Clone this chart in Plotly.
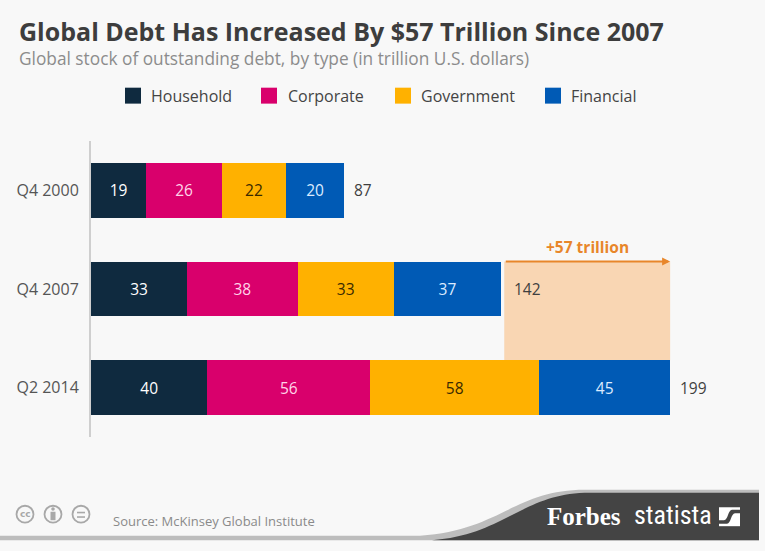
import plotly.graph_objects as go

# ---------------- data ----------------
categories = ["Q4 2000", "Q4 2007", "Q2 2014"]
series_names = ["Household", "Corporate", "Government", "Financial"]
household = [19, 33, 40]
corporate = [26, 38, 56]
government = [22, 33, 58]
financial = [20, 37, 45]
totals = [87, 142, 199]
increase_label = "+57 trillion"

series_values = [household, corporate, government, financial]
series_colors = ["#0F2A3F", "#D9006C", "#FFB100", "#005AB5"]
text_colors = ["#FFFFFF", "#FFD3E8", "#3A2A00", "#DCEBFF"]

W, H = 765, 551
L, R, T, B = 91, 25, 140.5, 113.5
PW, PH = W - L - R, H - T - B
XMAX = 223
BAR_W = 0.556


def px(x):
    return (x - L) / PW


def py(y):
    return (H - B - y) / PH


FONT = "Open Sans"
BG = "#F8F8F8"

fig = go.Figure()
for name, vals, col, tcol in zip(series_names, series_values, series_colors, text_colors):
    fig.add_trace(go.Bar(
        name=name, y=categories, x=vals, orientation="h",
        marker=dict(color=col, line=dict(width=0)),
        width=BAR_W,
        text=[str(v) for v in vals], textposition="inside",
        insidetextanchor="middle",
        textfont=dict(family=FONT, size=15.5, color=tcol),
        showlegend=False, hoverinfo="x+name",
    ))

shapes = []
annotations = []

# highlighted increase box (2007 total -> 2014 total)
top_2007 = 1 - BAR_W / 2
top_2014 = 2 - BAR_W / 2
shapes.append(dict(type="rect", xref="x", yref="y", x0=totals[1], x1=totals[2],
                   y0=top_2007, y1=top_2014, fillcolor="#F9D6B3",
                   line=dict(width=0), layer="below"))
annotations.append(dict(x=totals[2], y=top_2007, ax=totals[1], ay=top_2007,
                        xref="x", yref="y", axref="x", ayref="y", text="",
                        showarrow=True, arrowhead=2, arrowsize=0.8, arrowwidth=2,
                        arrowcolor="#E8862A", standoff=0, startstandoff=0))
annotations.append(dict(x=(totals[1] + totals[2]) / 2, y=top_2007, xref="x", yref="y",
                        text="<b>" + increase_label + "</b>", showarrow=False,
                        yanchor="bottom", yshift=2,
                        font=dict(family=FONT, size=15.5, color="#E8862A")))

# totals
for cat, tot in zip(categories, totals):
    annotations.append(dict(x=tot, y=cat, xref="x", yref="y", text=str(tot),
                            showarrow=False, xanchor="left", xshift=8,
                            font=dict(family=FONT, size=15.5, color="#3F3F3F")))

# title / subtitle
annotations.append(dict(x=px(17), y=py(30), xref="paper", yref="paper",
                        text="<b>Global Debt Has Increased By $57 Trillion Since 2007</b>",
                        showarrow=False, xanchor="left", yanchor="middle",
                        font=dict(family=FONT, size=25, color="#3D3D3D")))
annotations.append(dict(x=px(17), y=py(58), xref="paper", yref="paper",
                        text="Global stock of outstanding debt, by type (in trillion U.S. dollars)",
                        showarrow=False, xanchor="left", yanchor="middle",
                        font=dict(family=FONT, size=17.3, color="#8C8C8C")))

# custom legend
leg_sq_x = [125, 261, 395, 545]
leg_tx_x = [149, 286, 419, 569]
for name, col, sx, tx in zip(series_names, series_colors, leg_sq_x, leg_tx_x):
    shapes.append(dict(type="rect", xref="paper", yref="paper",
                       x0=px(sx), x1=px(sx + 16), y0=py(103), y1=py(87),
                       fillcolor=col, line=dict(width=0)))
    annotations.append(dict(x=px(tx), y=py(95), xref="paper", yref="paper", text=name,
                            showarrow=False, xanchor="left", yanchor="middle",
                            font=dict(family=FONT, size=16, color="#444444")))

# footer band
def P(x, y):
    return f"{px(x):.5f},{py(y):.5f}"

shapes.append(dict(type="path", xref="paper", yref="paper",
                   path=f"M {P(0,536.5)} L {P(420,536.5)} C {P(500,531)} {P(515,490.5)} {P(585,490.5)} "
                        f"L {P(759,490.5)} L {P(759,541)} L {P(0,541)} Z",
                   fillcolor="#BDBDBD", line=dict(width=0)))
shapes.append(dict(type="path", xref="paper", yref="paper",
                   path=f"M {P(432,541)} C {P(505,536)} {P(522,493.5)} {P(590,493.5)} "
                        f"L {P(759,493.5)} L {P(759,541)} Z",
                   fillcolor="#444444", line=dict(width=0)))

# CC icons
icon_col = "#A8A8A8"
for cx in [25, 53, 81]:
    shapes.append(dict(type="circle", xref="paper", yref="paper",
                       x0=px(cx - 8.5), x1=px(cx + 8.5), y0=py(515 + 8.5), y1=py(515 - 8.5),
                       line=dict(color=icon_col, width=1.8), fillcolor=BG))
annotations.append(dict(x=px(25), y=py(515), xref="paper", yref="paper", text="<b>cc</b>",
                        showarrow=False, xanchor="center", yanchor="middle",
                        font=dict(family="DejaVu Sans", size=9, color=icon_col)))
shapes.append(dict(type="circle", xref="paper", yref="paper",
                   x0=px(51.2), x1=px(54.8), y0=py(511.5), y1=py(508), fillcolor=icon_col,
                   line=dict(width=0)))
shapes.append(dict(type="rect", xref="paper", yref="paper",
                   x0=px(50.5), x1=px(55.5), y0=py(521), y1=py(512.5), fillcolor=icon_col,
                   line=dict(width=0)))
for yy in [512.5, 517]:
    shapes.append(dict(type="rect", xref="paper", yref="paper",
                       x0=px(77), x1=px(85), y0=py(yy + 1.6), y1=py(yy), fillcolor=icon_col,
                       line=dict(width=0)))

annotations.append(dict(x=px(111), y=py(522), xref="paper", yref="paper",
                        text="Source: McKinsey Global Institute", showarrow=False,
                        xanchor="left", yanchor="middle",
                        font=dict(family=FONT, size=13, color="#8A8A8A")))

# Forbes / statista logos
annotations.append(dict(x=px(584), y=py(517), xref="paper", yref="paper", text="<b>Forbes</b>",
                        showarrow=False, xanchor="center", yanchor="middle",
                        font=dict(family="Liberation Serif", size=25, color="#FFFFFF")))
annotations.append(dict(x=px(673), y=py(516), xref="paper", yref="paper", text="statista",
                        showarrow=False, xanchor="center", yanchor="middle",
                        font=dict(family="Liberation Sans Narrow, Roboto Condensed, Roboto",
                                  size=26, color="#FFFFFF")))
shapes.append(dict(type="rect", xref="paper", yref="paper",
                   x0=px(719), x1=px(740), y0=py(527), y1=py(508),
                   fillcolor="#FFFFFF", line=dict(width=0)))
shapes.append(dict(type="path", xref="paper", yref="paper",
                   path=f"M {P(719,524.5)} L {P(727,524.5)} C {P(731,524.5)} {P(731,514)} {P(735,514)} "
                        f"L {P(740,514)} L {P(740,510.5)} L {P(732,510.5)} C {P(728,510.5)} {P(728,521)} {P(724,521)} "
                        f"L {P(719,521)} Z",
                   fillcolor="#444444", line=dict(width=0)))

fig.update_layout(
    width=W, height=H, barmode="stack",
    margin=dict(l=L, r=R, t=T, b=B, pad=0),
    paper_bgcolor=BG, plot_bgcolor=BG,
    shapes=shapes, annotations=annotations,
    showlegend=False,
    xaxis=dict(range=[0, XMAX], visible=False, fixedrange=True),
    yaxis=dict(categoryorder="array", categoryarray=categories,
               range=[2.5, -0.5], showgrid=False, zeroline=False,
               showline=True, linecolor="#CFCFCF", linewidth=2,
               ticks="outside", ticklen=7, tickcolor="rgba(0,0,0,0)",
               tickfont=dict(family=FONT, size=16, color="#555555"),
               fixedrange=True),
    font=dict(family=FONT),
)

fig.write_html("out.html", config={"displayModeBar": False},
               post_script="document.body.style.margin='0';document.body.style.padding='0';"
                           "document.body.style.background='#F8F8F8';")
